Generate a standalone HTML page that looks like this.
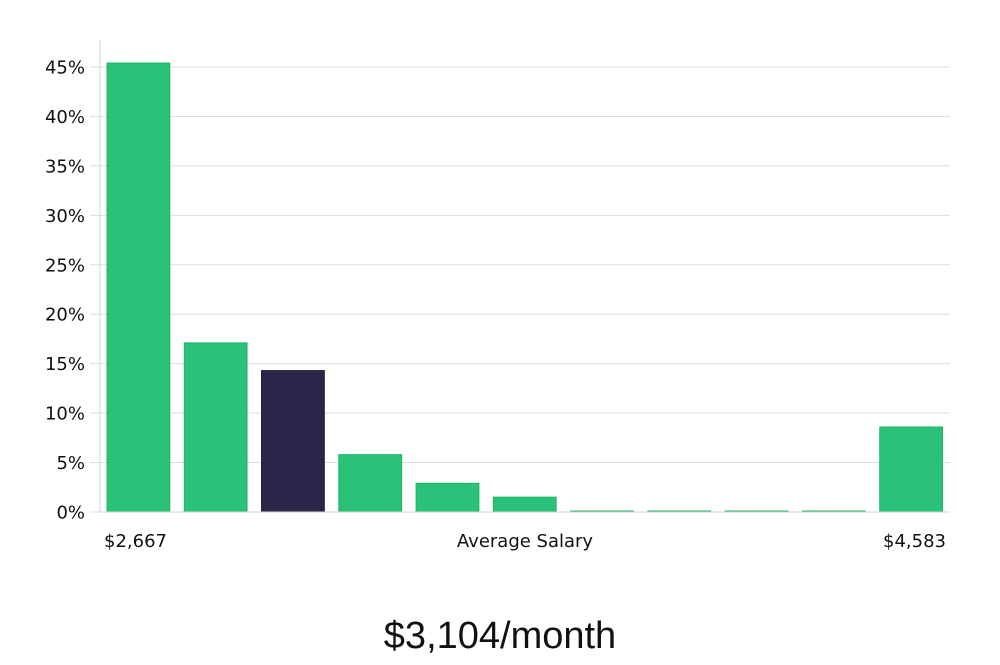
<!DOCTYPE html>
<html><head><meta charset="utf-8">
<style>
body{margin:0;background:#fff;width:1000px;height:660px;overflow:hidden}
svg text{font-family:"DejaVu Sans","Liberation Sans",sans-serif;fill:#111}
</style></head>
<body>
<svg id="chart" width="1000" height="660" xmlns="http://www.w3.org/2000/svg">
<g id="grid"></g><g id="bars"></g><g id="labels"></g>
<line x1="100" y1="40" x2="100" y2="512" stroke="#d6d6d6" stroke-width="1"/>
<line x1="100" y1="512" x2="950" y2="512" stroke="#d6d6d6" stroke-width="1"/>
<text x="104" y="547" font-size="18">$2,667</text>
<text x="525" y="547" font-size="18" text-anchor="middle">Average Salary</text>
<text x="946" y="547" font-size="18" text-anchor="end">$4,583</text>
<text x="500" y="648" font-size="38" text-anchor="middle" style="font-family:'Liberation Sans',sans-serif;font-weight:300;fill:#111">$3,104/month</text>
</svg>
<script>
const values = [45.4, 17.1, 14.3, 5.8, 2.9, 1.5, 0.1, 0.1, 0.1, 0.1, 8.6];
const highlightIndex = [2];
const yTicks = [0, 5, 10, 15, 20, 25, 30, 35, 40, 45];
const yTickLabels = ["0%","5%","10%","15%","20%","25%","30%","35%","40%","45%"];
const NS = "http://www.w3.org/2000/svg";
const x0 = 100, x1 = 950, yBase = 512, yTop = 67, yMaxVal = 45;
function y(v){ return yBase - (v / yMaxVal) * (yBase - yTop); }
const band = (x1 - x0) / values.length;
function x(i){ return x0 + i * band + 7; }
const bw = band - 14.5;
const grid = document.getElementById('grid');
yTicks.forEach((t, i) => {
  const yy = y(t);
  const l = document.createElementNS(NS, 'line');
  
  
  l.setAttribute('x1', 90); l.setAttribute('x2', x1);
  l.setAttribute('y1', yy); l.setAttribute('y2', yy);
  l.setAttribute('stroke', '#dedede'); l.setAttribute('stroke-width', 1);
  grid.appendChild(l);
  const tx = document.createElementNS(NS, 'text');
  
  
  tx.setAttribute('x', 85); tx.setAttribute('y', yy + 6.5);
  tx.setAttribute('font-size', 18); tx.setAttribute('text-anchor', 'end');
  tx.textContent = yTickLabels[i];
  document.getElementById('labels').appendChild(tx);
});
const bars = document.getElementById('bars');
values.forEach((v, i) => {
  const r = document.createElementNS(NS, 'rect');
  
  
  const hi = highlightIndex.includes(i);
  const top = y(v);
  r.setAttribute('x', x(i)); r.setAttribute('width', bw);
  r.setAttribute('y', top); r.setAttribute('height', Math.max(yBase - top, 1));
  r.setAttribute('fill', hi ? '#29264a' : '#2ac178');
  r.setAttribute('stroke', hi ? '#1d1a3a' : '#1db46b');
  r.setAttribute('stroke-width', 1);
  bars.appendChild(r);
});
</script>
</body></html>
